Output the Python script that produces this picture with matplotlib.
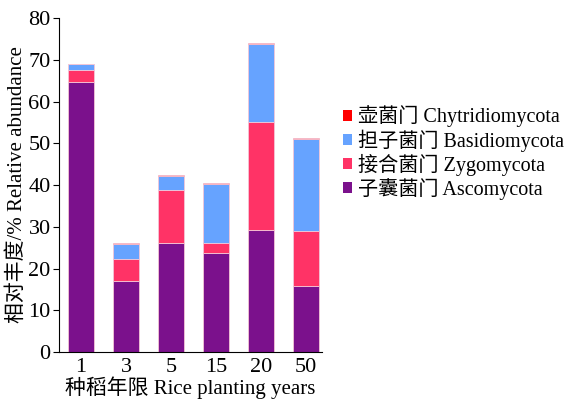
import numpy as np
import matplotlib.pyplot as plt
from matplotlib.patches import Patch

plt.rcParams['font.family'] = ['Liberation Serif', 'Noto Sans CJK SC', 'DejaVu Sans']

years = ['1', '3', '5', '15', '20', '50']
ascomycota = [64.8, 17.1, 26.2, 23.8, 29.3, 15.9]
zygomycota = [2.8, 5.3, 12.7, 2.4, 25.9, 13.2]
basidiomycota = [1.3, 3.5, 3.3, 14.1, 18.5, 22.0]
chytridiomycota = [0.1, 0.2, 0.1, 0.2, 0.3, 0.1]

names = ['子囊菌门 Ascomycota', '接合菌门 Zygomycota', '担子菌门 Basidiomycota', '壶菌门 Chytridiomycota']
colors = ['#7b118c', '#ff3366', '#66a3ff', '#ff0000']
series = [ascomycota, zygomycota, basidiomycota, chytridiomycota]

fig = plt.figure(figsize=(5.75, 4.01), dpi=100)
ax = fig.add_axes([0.1026, 0.122, 0.4574, 0.833])

x = np.arange(len(years))
bottom = np.zeros(len(years))
for vals, c in zip(series, colors):
    ax.bar(x, vals, 0.58, bottom=bottom, color=c, edgecolor='#f4c6d6', linewidth=0.6)
    bottom += np.array(vals)

ax.set_xlim(-0.49, 5.35)
ax.set_ylim(0, 80)
ax.set_yticks(range(0, 81, 10))
ax.set_xticks(x)
ax.set_xticklabels(years)
ax.spines['top'].set_visible(False)
ax.spines['right'].set_visible(False)
ax.tick_params(axis='x', length=0, labelsize=16, pad=4)
ax.tick_params(axis='y', direction='out', length=4, labelsize=16, pad=2)
ax.set_xlabel('种稻年限 Rice planting years', fontsize=15, labelpad=0)
ax.set_ylabel('相对丰度/% Relative abundance', fontsize=15, labelpad=1)

handles = [Patch(facecolor=c) for c in colors][::-1]
fig.legend(handles, names[::-1], loc='upper left', bbox_to_anchor=(0.583, 0.757),
           frameon=False, fontsize=14.5, handlelength=0.45, handleheight=0.45,
           handletextpad=0.3, labelspacing=0.1, borderaxespad=0)

fig.savefig('out.png', dpi=100)
